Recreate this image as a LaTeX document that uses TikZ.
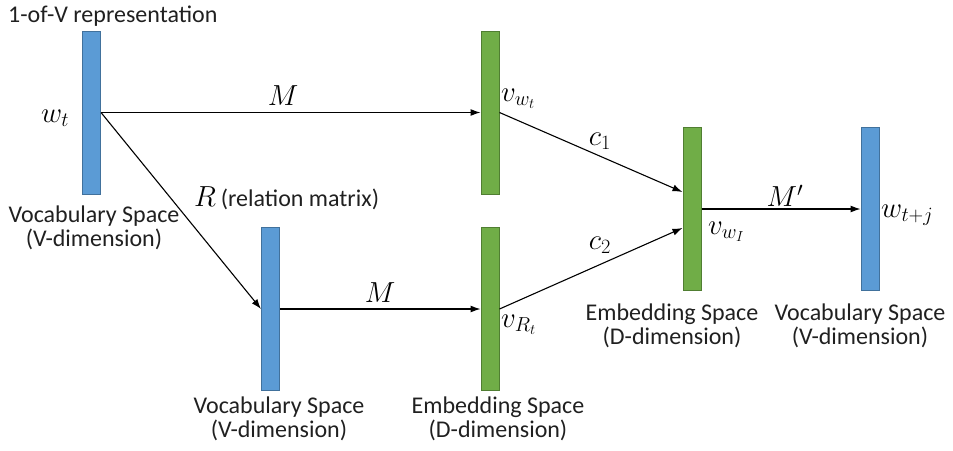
\documentclass[tikz,border=0pt]{standalone}
\usepackage{fix-cm}
\usepackage{fontspec}
\setmainfont{Carlito}
\usetikzlibrary{arrows.meta,calc}
\definecolor{barblue}{HTML}{5B9BD5}
\definecolor{barblueedge}{HTML}{41719C}
\definecolor{bargreen}{HTML}{70AD47}
\definecolor{bargreenedge}{HTML}{507E32}
\definecolor{txt}{HTML}{202020}
\tikzset{
  bar/.style={rectangle, inner sep=0pt, minimum width=18pt, minimum height=163pt, line width=1pt},
  bluebar/.style={bar, fill=barblue, draw=barblueedge},
  greenbar/.style={bar, fill=bargreen, draw=bargreenedge},
  lbl/.style={inner sep=0pt, anchor=base, text=txt, font=\fontsize{24}{26}\selectfont},
  mlbl/.style={inner sep=0pt, font=\fontsize{29}{31}\selectfont},
  conn/.style={line width=1.1pt, -{Latex[length=10pt,width=7pt]}},
}
\begin{document}
\begin{tikzpicture}[x=1pt,y=-1pt]
\useasboundingbox (0,0) rectangle (953,450);
% bars
\node[bluebar]  (b1) at (91.5,112.5) {};
\node[bluebar]  (b2) at (270.5,309) {};
\node[greenbar] (g1) at (490,112.5) {};
\node[greenbar] (g2) at (490,309) {};
\node[greenbar] (g3) at (692,209) {};
\node[bluebar]  (b3) at (870,209) {};
% connectors
\draw[conn] (b1.east) -- (g1.west);
\draw[conn] (b1.east) -- (b2.west);
\draw[conn] (b2.east) -- (g2.west);
\draw[conn] (g1.east) -- ($(g3.west)+(0,-17)$);
\draw[conn] (g2.east) -- ($(g3.west)+(0,19)$);
\draw[conn] (g3.east) -- (b3.west);
% texts
\node[lbl, anchor=base west] (title) at (8,22) {1-of-V representation};
\node[lbl] (b1l1) at (94,222) {Vocabulary Space};
\node[lbl] (b1l2) at (94,246) {(V-dimension)};
\node[lbl] (b2l1) at (279,413) {Vocabulary Space};
\node[lbl] (b2l2) at (279,437) {(V-dimension)};
\node[lbl] (g2l1) at (498,413) {Embedding Space};
\node[lbl] (g2l2) at (498,437) {(D-dimension)};
\node[lbl] (g3l1) at (672,320) {Embedding Space};
\node[lbl] (g3l2) at (672,344) {(D-dimension)};
\node[lbl] (b3l1) at (860,320) {Vocabulary Space};
\node[lbl] (b3l2) at (860,344) {(V-dimension)};
% math labels
\node[mlbl, anchor=base west] (wt) at (41,122) {$w_t$};
\node[mlbl] (M1) at (283,96) {$M$};
\node[mlbl, anchor=base west] (R) at (194,206) {$R$\,{\color{txt}\fontsize{24}{26}\selectfont (relation matrix)}};
\node[mlbl, anchor=base west] (vwt) at (501,101) {$v_{w_t}$};
\node[mlbl] (M2) at (380,293) {$M$};
\node[mlbl, anchor=base west] (vrt) at (501,327) {$v_{R_t}$};
\node[mlbl] (c1) at (600,141) {$c_1$};
\node[mlbl] (c2) at (600,245) {$c_2$};
\node[mlbl, anchor=base west] (vwi) at (708,234) {$v_{w_I}$};
\node[mlbl] (Mp) at (785,196) {$M'$};
\node[mlbl, anchor=base west] (wtj) at (881,217) {$w_{t+j}$};
\end{tikzpicture}
\end{document}
